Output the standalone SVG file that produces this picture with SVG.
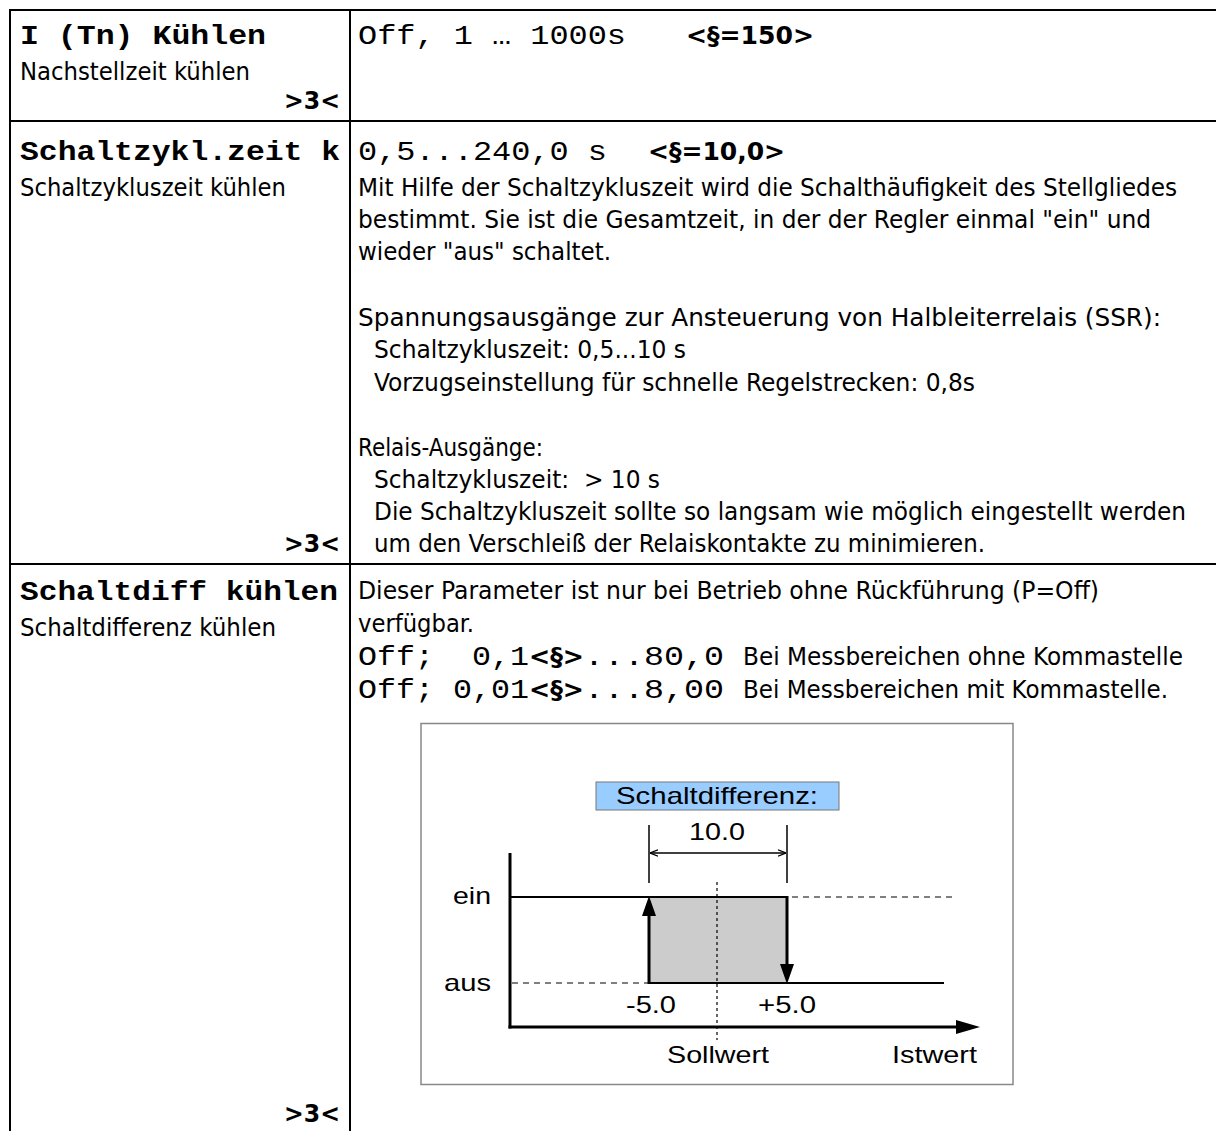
<svg xmlns="http://www.w3.org/2000/svg" width="1216" height="1131" viewBox="0 0 1216 1131">
<style>
.s{font-family:"DejaVu Sans Condensed","DejaVu Sans",Verdana,Tahoma,sans-serif;font-size:24px;fill:#000}
.sb{font-family:"DejaVu Sans Condensed","DejaVu Sans",Verdana,Tahoma,sans-serif;font-size:25px;font-weight:bold;fill:#000}
.m{font-family:"Liberation Mono","Courier New",monospace;font-size:27px;fill:#000}
.mb{font-family:"Liberation Mono","Courier New",monospace;font-size:27px;font-weight:bold;fill:#000}
.d{font-family:"Liberation Sans",Arial,sans-serif;font-size:24px;fill:#000}
.grid{stroke:#000;stroke-width:2;fill:none}
.dash{stroke:#000;stroke-width:1.2;stroke-dasharray:6,5;fill:none}
</style>
<defs>
<marker id="oa" viewBox="0 0 10 10" refX="10" refY="5" markerWidth="8" markerHeight="8" orient="auto-start-reverse" markerUnits="userSpaceOnUse">
<path d="M0,1 L10,5 L0,9" fill="none" stroke="#000" stroke-width="1.5"/>
</marker>
</defs>
<rect width="1216" height="1131" fill="#fff"/>
<g id="table" class="grid">
<line x1="10" y1="10" x2="1216" y2="10"/>
<line x1="10" y1="9" x2="10" y2="1131"/>
<line x1="350" y1="10" x2="350" y2="1131"/>
<line x1="10" y1="121" x2="1216" y2="121"/>
<line x1="10" y1="564" x2="1216" y2="564"/>
</g>
<g id="row1">
<text class="mb" x="20" y="44" textLength="246" lengthAdjust="spacingAndGlyphs">I (Tn) Kühlen</text>
<text class="s" x="20" y="80" textLength="230" lengthAdjust="spacingAndGlyphs">Nachstellzeit kühlen</text>
<text class="sb" x="284" y="109" textLength="56" lengthAdjust="spacingAndGlyphs">&gt;3&lt;</text>
<text class="m" x="358" y="44" textLength="268" lengthAdjust="spacingAndGlyphs" xml:space="preserve">Off, 1 … 1000s</text>
<text class="sb" x="686" y="44" textLength="128" lengthAdjust="spacingAndGlyphs">&lt;§=150&gt;</text>
</g>
<g id="row2">
<text class="mb" x="20" y="160" textLength="320" lengthAdjust="spacingAndGlyphs">Schaltzykl.zeit k</text>
<text class="s" x="20" y="196" textLength="266" lengthAdjust="spacingAndGlyphs">Schaltzykluszeit kühlen</text>
<text class="sb" x="284" y="552" textLength="56" lengthAdjust="spacingAndGlyphs">&gt;3&lt;</text>
<text class="m" x="358" y="160" textLength="249" lengthAdjust="spacingAndGlyphs" xml:space="preserve">0,5...240,0 s</text>
<text class="sb" x="648" y="160" textLength="137" lengthAdjust="spacingAndGlyphs">&lt;§=10,0&gt;</text>
<text class="s" x="358" y="196" textLength="819" lengthAdjust="spacingAndGlyphs">Mit Hilfe der Schaltzykluszeit wird die Schalthäufigkeit des Stellgliedes</text>
<text class="s" x="358" y="228" textLength="793" lengthAdjust="spacingAndGlyphs">bestimmt. Sie ist die Gesamtzeit, in der der Regler einmal "ein" und</text>
<text class="s" x="358" y="260" textLength="253" lengthAdjust="spacingAndGlyphs">wieder "aus" schaltet.</text>
<text class="s" x="358" y="326" textLength="803" lengthAdjust="spacingAndGlyphs">Spannungsausgänge zur Ansteuerung von Halbleiterrelais (SSR):</text>
<text class="s" x="374" y="358" textLength="312" lengthAdjust="spacingAndGlyphs">Schaltzykluszeit: 0,5...10 s</text>
<text class="s" x="374" y="391" textLength="601" lengthAdjust="spacingAndGlyphs">Vorzugseinstellung für schnelle Regelstrecken: 0,8s</text>
<text class="s" x="358" y="456" textLength="185" lengthAdjust="spacingAndGlyphs">Relais-Ausgänge:</text>
<text class="s" x="374" y="488" textLength="286" lengthAdjust="spacingAndGlyphs" xml:space="preserve">Schaltzykluszeit:  &gt; 10 s</text>
<text class="s" x="374" y="520" textLength="812" lengthAdjust="spacingAndGlyphs">Die Schaltzykluszeit sollte so langsam wie möglich eingestellt werden</text>
<text class="s" x="374" y="552" textLength="611" lengthAdjust="spacingAndGlyphs">um den Verschleiß der Relaiskontakte zu minimieren.</text>
</g>
<g id="row3">
<text class="mb" x="20" y="600" textLength="318" lengthAdjust="spacingAndGlyphs">Schaltdiff kühlen</text>
<text class="s" x="20" y="636" textLength="256" lengthAdjust="spacingAndGlyphs">Schaltdifferenz kühlen</text>
<text class="sb" x="284" y="1122" textLength="56" lengthAdjust="spacingAndGlyphs">&gt;3&lt;</text>
<text class="s" x="358" y="599" textLength="741" lengthAdjust="spacingAndGlyphs">Dieser Parameter ist nur bei Betrieb ohne Rückführung (P=Off)</text>
<text class="s" x="358" y="632" textLength="116" lengthAdjust="spacingAndGlyphs">verfügbar.</text>
<text class="m" x="358" y="665" textLength="171" lengthAdjust="spacingAndGlyphs" xml:space="preserve">Off;  0,1</text>
<text class="sb" x="529" y="665" textLength="55" lengthAdjust="spacingAndGlyphs">&lt;§&gt;</text>
<text class="m" x="584" y="665" textLength="140" lengthAdjust="spacingAndGlyphs">...80,0</text>
<text class="s" x="743" y="665" textLength="440" lengthAdjust="spacingAndGlyphs">Bei Messbereichen ohne Kommastelle</text>
<text class="m" x="358" y="698" textLength="171" lengthAdjust="spacingAndGlyphs" xml:space="preserve">Off; 0,01</text>
<text class="sb" x="529" y="698" textLength="55" lengthAdjust="spacingAndGlyphs">&lt;§&gt;</text>
<text class="m" x="584" y="698" textLength="140" lengthAdjust="spacingAndGlyphs">...8,00</text>
<text class="s" x="743" y="698" textLength="425" lengthAdjust="spacingAndGlyphs">Bei Messbereichen mit Kommastelle.</text>
</g>
<g id="chart">
<rect x="421" y="723.5" width="592" height="361" fill="#fff" stroke="#888" stroke-width="1.5"/>
<rect x="649" y="897" width="138" height="86" fill="#cccccc"/>
<rect x="596" y="782" width="243" height="28" fill="#99ccff" stroke="#777" stroke-width="1"/>
<text class="d" x="717" y="804" text-anchor="middle" textLength="202" lengthAdjust="spacingAndGlyphs">Schaltdifferenz:</text>
<text class="d" x="717" y="840" text-anchor="middle" textLength="56" lengthAdjust="spacingAndGlyphs">10.0</text>
<text class="d" x="491" y="904" text-anchor="end" textLength="38" lengthAdjust="spacingAndGlyphs">ein</text>
<text class="d" x="491" y="991" text-anchor="end" textLength="47" lengthAdjust="spacingAndGlyphs">aus</text>
<text class="d" x="651" y="1013" text-anchor="middle" textLength="50" lengthAdjust="spacingAndGlyphs">-5.0</text>
<text class="d" x="787" y="1013" text-anchor="middle" textLength="58" lengthAdjust="spacingAndGlyphs">+5.0</text>
<text class="d" x="718" y="1063" text-anchor="middle" textLength="102" lengthAdjust="spacingAndGlyphs">Sollwert</text>
<text class="d" x="892" y="1063" textLength="85" lengthAdjust="spacingAndGlyphs">Istwert</text>
</g>
<g id="connectors">
<line x1="649" y1="825" x2="649" y2="883" stroke="#000" stroke-width="1.5"/>
<line x1="787" y1="825" x2="787" y2="883" stroke="#000" stroke-width="1.5"/>
<line x1="650" y1="853" x2="786" y2="853" stroke="#000" stroke-width="1.5" marker-start="url(#oa)" marker-end="url(#oa)"/>
<line x1="717" y1="882" x2="717" y2="1040" stroke="#000" stroke-width="1.2" stroke-dasharray="3,3"/>
<line x1="510" y1="853" x2="510" y2="1028.5" stroke="#000" stroke-width="3"/>
<line x1="508.5" y1="1027" x2="958" y2="1027" stroke="#000" stroke-width="3"/>
<polygon points="956,1020 980,1027 956,1034" fill="#000"/>
<line x1="511" y1="897" x2="788" y2="897" stroke="#000" stroke-width="2"/>
<line x1="792" y1="897" x2="956" y2="897" class="dash"/>
<line x1="512" y1="983" x2="648" y2="983" class="dash"/>
<line x1="648" y1="983" x2="944" y2="983" stroke="#000" stroke-width="2"/>
<line x1="649" y1="984" x2="649" y2="914" stroke="#000" stroke-width="3"/>
<polygon points="642,916 649,896 656,916" fill="#000"/>
<line x1="787" y1="896" x2="787" y2="966" stroke="#000" stroke-width="3"/>
<polygon points="780,964 787,984 794,964" fill="#000"/>
</g>
</svg>
